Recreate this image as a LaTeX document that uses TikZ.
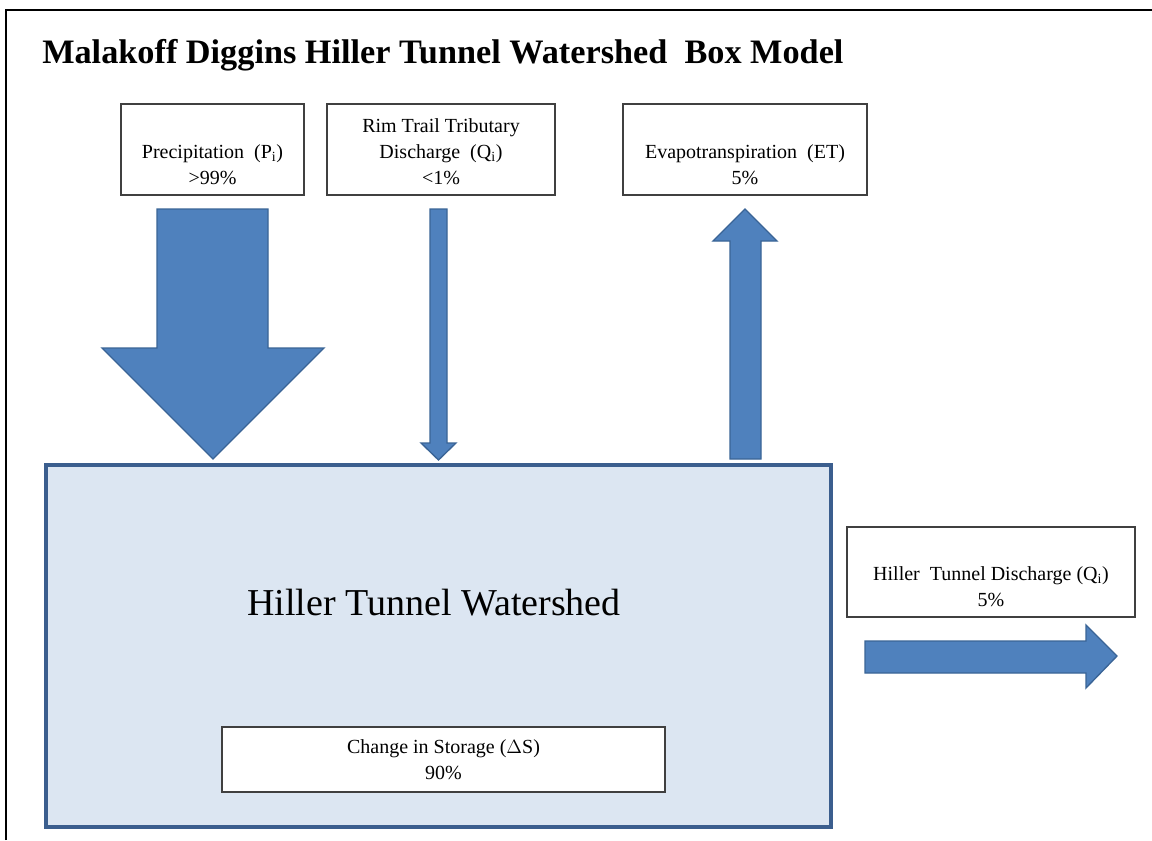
\documentclass[tikz,border=0pt]{standalone}
\usepackage{fontspec}
\setmainfont{Liberation Serif}
\definecolor{arrowfill}{HTML}{4F81BD}
\definecolor{arrowline}{HTML}{3A6496}
\definecolor{wsfill}{HTML}{DCE6F2}
\definecolor{wsline}{HTML}{3B5E8E}
\definecolor{boxline}{HTML}{404040}
\begin{document}
\begin{tikzpicture}[x=0.75pt,y=-0.75pt,
  fluxbox/.style={draw=boxline, line width=1.1pt, fill=white, inner sep=0pt},
  boxtext/.style={align=center, font=\fontsize{15}{19.5}\selectfont, inner sep=0pt},
  blockarrow/.style={fill=arrowfill, draw=arrowline, line width=1pt, line join=miter}]
\useasboundingbox (0,0) rectangle (1152,840);
\fill[white] (0,0) rectangle (1152,840);
\draw[line width=2.2pt] (6,840) -- (6,10) -- (1152,10);

\node[anchor=west, inner sep=0pt, font=\bfseries\fontsize{25.7}{30}\selectfont] (title) at (42,55)
  {Malakoff Diggins Hiller Tunnel Watershed\ \ Box Model};

% input / output boxes
\node[fluxbox, minimum width=137.25pt, minimum height=68.25pt] (precip) at (212.5,149.5) {};
\node[boxtext] (precipt) at (212.5,165) {Precipitation\ \ (P\textsubscript{i})\\>99\%};

\node[fluxbox, minimum width=171pt, minimum height=68.25pt] (rim) at (441,149.5) {};
\node[boxtext] (rimt) at (441,152) {Rim Trail Tributary\\Discharge\ \ (Q\textsubscript{i})\\<1\%};

\node[fluxbox, minimum width=183pt, minimum height=68.25pt] (et) at (745,149.5) {};
\node[boxtext] (ett) at (745,165) {Evapotranspiration\ \ (ET)\\5\%};

\node[fluxbox, minimum width=216pt, minimum height=67.5pt] (htd) at (991,572) {};
\node[boxtext] (htdt) at (991,587) {Hiller\ \ Tunnel Discharge\ (Q\textsubscript{i})\\5\%};

% watershed
\node[draw=wsline, fill=wsfill, line width=2.3pt, inner sep=0pt,
      minimum width=588.75pt, minimum height=271.5pt] (ws) at (438.5,646) {};
\node[inner sep=0pt, font=\fontsize{28.5}{34}\selectfont] (wst) at (434,603) {Hiller Tunnel Watershed};

\node[fluxbox, minimum width=332.25pt, minimum height=48.75pt] (storage) at (443.5,759.5) {};
\node[boxtext] (storaget) at (443.5,760) {Change in Storage (\(\Delta\)S)\\90\%};

% block arrows
\draw[blockarrow] (157,209) -- (268,209) -- (268,348) -- (324,348) -- (213,459)
  -- (102,348) -- (157,348) -- cycle;
\draw[blockarrow] (430,209) -- (447,209) -- (447,443) -- (456,443) -- (438.5,460)
  -- (421,443) -- (430,443) -- cycle;
\draw[blockarrow] (730,459) -- (761,459) -- (761,241) -- (777,241) -- (745,209)
  -- (713,241) -- (730,241) -- cycle;
\draw[blockarrow] (865,641) -- (1086,641) -- (1086,625) -- (1117,656) -- (1086,688)
  -- (1086,673) -- (865,673) -- cycle;
\end{tikzpicture}
\end{document}
